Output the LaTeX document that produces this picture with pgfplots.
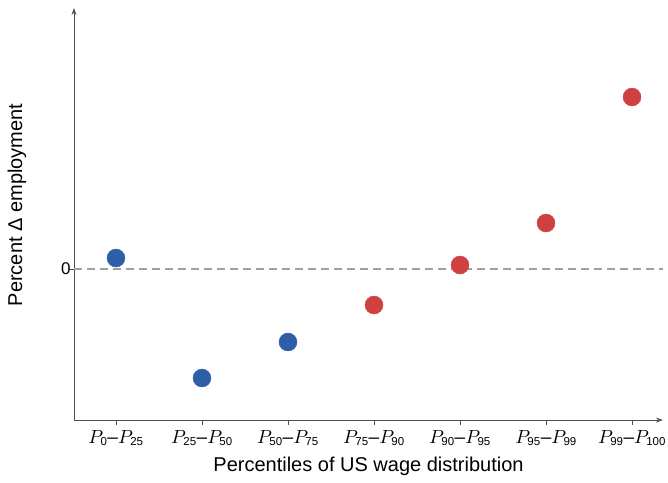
\documentclass[border=0pt]{standalone}
\usepackage{amsmath}
\DeclareFontShape{OML}{cmm}{m}{it}{<->cmmi10}{}
\usepackage{pgfplots}
\pgfplotsset{compat=1.18}
\usepackage{fontspec}
\setmainfont{Liberation Sans}
\usetikzlibrary{arrows.meta}
\definecolor{ptblue}{RGB}{46,94,168}
\definecolor{ptred}{RGB}{208,64,64}
\definecolor{axgray}{RGB}{80,80,80}
\definecolor{dashgray}{RGB}{160,160,160}
\newcommand{\sub}[1]{\mbox{\fontsize{11.5}{12}\selectfont #1}}
\newcommand{\rng}[2]{$P_{\sub{#1}}$--$P_{\sub{#2}}$}
\begin{document}
\begin{tikzpicture}
\begin{axis}[
  x=86pt, y=1pt,
  xmin=-0.488, xmax=6.36, ymin=-151, ymax=261,
  axis lines=left,
  axis line style={axgray, line width=1pt},
  x axis line style={-{Stealth[length=7pt,width=5pt]}},
  y axis line style={-{Stealth[length=7pt,width=5pt]}},
  xtick={0,...,6},
  xticklabels={\rng{0}{25},\rng{25}{50},\rng{50}{75},\rng{75}{90},\rng{90}{95},\rng{95}{99},\rng{99}{100}},
  ytick={0}, yticklabels={0},
  tick align=outside, major tick length=5pt,
  tick style={axgray, line width=0.8pt},
  /pgf/number format/assume math mode=true,
  xticklabel style={font=\fontsize{19}{22}\selectfont, anchor=center, yshift=-13pt, inner sep=0pt},
  yticklabel style={font=\fontsize{17}{19}\selectfont, anchor=east, xshift=5pt},
  label style={font=\fontsize{20}{24}\selectfont},
  xlabel={Percentiles of US wage distribution},
  ylabel={Percent Δ employment},
  xlabel style={at={(axis description cs:0.5,0)}, anchor=center, yshift=-46pt},
  ylabel style={at={(axis description cs:-0.0968,0.522)}, anchor=center},
  clip=false,
]
\draw[dashgray, line width=2.2pt, dash pattern=on 8pt off 5pt] (axis cs:-0.488,0) -- (axis cs:6.36,0);
\addplot[only marks, mark=*, mark size=9pt, color=ptblue, mark options={draw=ptblue, fill=ptblue}]
  coordinates {(0,11) (1,-109) (2,-73)};
\addplot[only marks, mark=*, mark size=9pt, color=ptred, mark options={draw=ptred, fill=ptred}]
  coordinates {(3,-36) (4,4) (5,46) (6,172)};
\path (axis description cs:0,0) ++(-74pt,-62pt);
\path (axis description cs:1,1) ++(5pt,8pt);
\end{axis}
\end{tikzpicture}
\end{document}
